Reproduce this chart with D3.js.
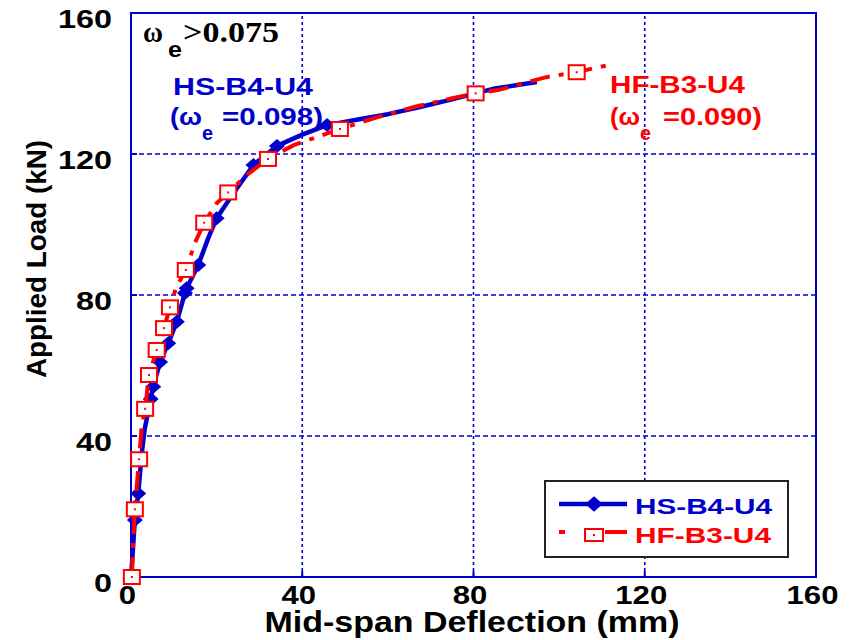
<!DOCTYPE html>
<html>
<head>
<meta charset="utf-8">
<script src="https://cdn.jsdelivr.net/npm/d3@7"></script>
<style>
  body { margin: 0; background: #fff; }
</style>
</head>
<body>
<div id="chart"></div>
<script>
// HS-B4-U4 load-deflection curve (mm, kN)
const hsDefl = [0, 0.3, 0.9, 1.7, 2.5, 3.2, 4.2, 5.2, 6.8, 8.7, 10.7, 12.6, 13.0, 15.7, 18.0, 20.0, 24.0, 28.6, 34.1, 40.0, 45.8, 53.0, 60.0, 67.0, 75.0, 85.0, 94.8];
const hsLoad = [0, 5, 16.2, 23.7, 35, 42, 48, 54, 61, 66.3, 72.4, 80.6, 81.9, 88.5, 96, 101.8, 109, 116.9, 122.3, 125.5, 128.2, 129.8, 131.3, 133.2, 135.5, 138.6, 140.4];
// HS-B4-U4 marker points
const hsMarkDefl = [0.9, 1.7, 4.6, 5.2, 6.8, 8.7, 10.7, 12.6, 13.0, 15.7, 20.0, 28.6, 34.1, 45.8];
const hsMarkLoad = [16.2, 23.7, 50.5, 54, 61, 66.3, 72.4, 80.6, 81.9, 88.5, 101.8, 116.9, 122.3, 128.2];

// HF-B3-U4 load-deflection curve (mm, kN)
const hfDefl = [0.2, 0.5, 0.9, 1.5, 1.9, 2.5, 3.3, 4.2, 6.0, 7.7, 9.1, 10.5, 12.8, 15.0, 17.1, 20.0, 22.7, 27.0, 32.0, 38.0, 48.8, 58.0, 67.0, 75.0, 80.5, 86.0, 92.0, 97.0, 104.1, 108.0, 112.0];
const hfLoad = [0, 10, 19.2, 28, 33.4, 43, 47.7, 57.3, 64.4, 70.6, 76.5, 82, 87.1, 95, 100.5, 106, 109.1, 114, 118.6, 122.5, 127.1, 130.6, 133.6, 135.8, 137.2, 138.2, 140.2, 141.8, 143.2, 144.3, 145.3];
// HF-B3-U4 marker points
const hfMarkDefl = [0.2, 0.9, 1.9, 3.3, 4.2, 6.0, 7.7, 9.1, 12.8, 17.1, 22.7, 32.0, 48.8, 80.5, 104.1];
const hfMarkLoad = [0, 19.2, 33.4, 47.7, 57.3, 64.4, 70.6, 76.5, 87.1, 100.5, 109.1, 118.6, 127.1, 137.2, 143.2];

const xTicks = [0, 40, 80, 120, 160];
const yTicks = [0, 40, 80, 120, 160];
const gridTicks = [40, 80, 120];

const width = 853, height = 640;
const blue = "#0000cc", red = "#ff0000";
const sans = "'Liberation Sans', Arial, sans-serif";
const serif = "'Liberation Serif', 'Times New Roman', serif";

const svg = d3.select("#chart")
  .append("svg")
    .attr("width", width)
    .attr("height", height);

const x = d3.scaleLinear().domain([0, 160]).range([131, 816]);
const y = d3.scaleLinear().domain([0, 160]).range([577, 13]);

// grid lines
svg.selectAll("line.vgrid")
  .data(gridTicks)
  .join("line")
    .attr("x1", d => x(d)).attr("x2", d => x(d))
    .attr("y1", y(0)).attr("y2", y(160))
    .attr("stroke", blue).attr("stroke-width", 1.6)
    .attr("stroke-dasharray", "3,3");
svg.selectAll("line.hgrid")
  .data(gridTicks)
  .join("line")
    .attr("x1", x(0)).attr("x2", x(160))
    .attr("y1", d => y(d)).attr("y2", d => y(d))
    .attr("stroke", blue).attr("stroke-width", 1.6)
    .attr("stroke-dasharray", "5,3");

// inner ticks
svg.selectAll("line.xt")
  .data(xTicks)
  .join("line")
    .attr("x1", d => x(d)).attr("x2", d => x(d))
    .attr("y1", y(0)).attr("y2", y(0) - 6)
    .attr("stroke", blue).attr("stroke-width", 2);
svg.selectAll("line.yt")
  .data(yTicks)
  .join("line")
    .attr("x1", x(0)).attr("x2", x(0) + 6)
    .attr("y1", d => y(d)).attr("y2", d => y(d))
    .attr("stroke", blue).attr("stroke-width", 2);

// frame
svg.append("rect")
  .attr("x", x(0)).attr("y", y(160))
  .attr("width", x(160) - x(0)).attr("height", y(0) - y(160))
  .attr("fill", "none").attr("stroke", blue).attr("stroke-width", 2);

// axes (labels only)
const xAxis = svg.append("g")
  .attr("transform", `translate(0,${y(0)})`)
  .call(d3.axisBottom(x).tickValues(xTicks).tickSize(0));
xAxis.select(".domain").remove();
xAxis.selectAll("text")
  .attr("y", 27).attr("dy", 0).attr("x", -4)
  .attr("fill", "#000")
  .style("font", `bold 25px ${sans}`)
  .attr("textLength", d => String(d).length * 17.3)
  .attr("lengthAdjust", "spacingAndGlyphs");

const yAxis = svg.append("g")
  .attr("transform", `translate(${x(0)},0)`)
  .call(d3.axisLeft(y).tickValues(yTicks).tickSize(0).tickPadding(19));
yAxis.select(".domain").remove();
yAxis.selectAll("text")
  .attr("dy", "0.56em")
  .attr("fill", "#000")
  .style("font", `bold 25px ${sans}`)
  .attr("textLength", d => String(d).length * 18)
  .attr("lengthAdjust", "spacingAndGlyphs");

// axis titles
svg.append("text")
  .attr("x", 472).attr("y", 632)
  .attr("text-anchor", "middle")
  .style("font", `bold 30px ${sans}`)
  .attr("textLength", 415).attr("lengthAdjust", "spacingAndGlyphs")
  .text("Mid-span Deflection (mm)");

svg.append("text")
  .attr("transform", "translate(46,259) rotate(-90)")
  .attr("text-anchor", "middle")
  .style("font", `bold 27px ${sans}`)
  .attr("textLength", 238).attr("lengthAdjust", "spacingAndGlyphs")
  .text("Applied Load (kN)");

// series
const line = d3.line().x(d => x(d[0])).y(d => y(d[1]));
const hsPts = d3.zip(hsDefl, hsLoad);
const hfPts = d3.zip(hfDefl, hfLoad);
const diamond = "M0,-7L8,0L0,7L-8,0Z";

svg.append("path")
  .datum(hsPts)
  .attr("d", line)
  .attr("fill", "none").attr("stroke", blue).attr("stroke-width", 4.5)
  .attr("stroke-linejoin", "round");

svg.selectAll("path.hsmark")
  .data(d3.zip(hsMarkDefl, hsMarkLoad))
  .join("path")
    .attr("transform", d => `translate(${x(d[0])},${y(d[1])})`)
    .attr("d", diamond)
    .attr("fill", blue);

svg.append("path")
  .datum(hfPts)
  .attr("d", line)
  .attr("fill", "none").attr("stroke", red).attr("stroke-width", 4)
  .attr("stroke-dasharray", "20,9,5,9");

const hfMarks = svg.selectAll("g.hfmark")
  .data(d3.zip(hfMarkDefl, hfMarkLoad))
  .join("g")
    .attr("transform", d => `translate(${x(d[0])},${y(d[1])})`);
hfMarks.append("rect")
  .attr("x", -8).attr("y", -7).attr("width", 16).attr("height", 14)
  .attr("fill", "#fff").attr("stroke", red).attr("stroke-width", 2);
hfMarks.append("rect")
  .attr("x", -1).attr("y", -1).attr("width", 2).attr("height", 2)
  .attr("fill", red);

// annotations
function label(txt, x0, y0, font, color, len) {
  const t = svg.append("text")
    .attr("x", x0).attr("y", y0)
    .style("font", font).attr("fill", color)
    .text(txt);
  if (len) t.attr("textLength", len).attr("lengthAdjust", "spacingAndGlyphs");
  return t;
}
label("ω", 143, 42, `bold 29px ${serif}`, "#000", 20);
label("e", 168, 57, `bold 22px ${sans}`, "#000", 14);
label(">0.075", 183, 42, `bold 29px ${serif}`, "#000", 96);

label("HS-B4-U4", 173, 95, `bold 24px ${sans}`, blue, 140);
label("(ω", 170, 125, `bold 24px ${sans}`, blue, 32);
label("e", 202, 140, `bold 20px ${sans}`, blue, 11);
label("=0.098)", 222, 125, `bold 24px ${sans}`, blue, 101);

label("HF-B3-U4", 610, 93, `bold 24px ${sans}`, red, 135);
label("(ω", 610, 125, `bold 24px ${sans}`, red, 30);
label("e", 640, 140, `bold 20px ${sans}`, red, 11);
label("=0.090)", 663, 125, `bold 24px ${sans}`, red, 99);

// legend
const lg = svg.append("g");
lg.append("rect")
  .attr("x", 545).attr("y", 481).attr("width", 243).attr("height", 76)
  .attr("fill", "#fff").attr("stroke", "#222").attr("stroke-width", 2);
lg.append("line")
  .attr("x1", 559).attr("x2", 627).attr("y1", 504).attr("y2", 504)
  .attr("stroke", blue).attr("stroke-width", 4.5);
lg.append("path")
  .attr("transform", "translate(594,504) scale(1.1)")
  .attr("d", diamond).attr("fill", blue);
lg.append("text")
  .attr("x", 635).attr("y", 514)
  .style("font", `bold 22px ${sans}`).attr("fill", blue)
  .attr("textLength", 137).attr("lengthAdjust", "spacingAndGlyphs")
  .text("HS-B4-U4");
lg.append("line")
  .attr("x1", 559).attr("x2", 627).attr("y1", 532).attr("y2", 532)
  .attr("stroke", red).attr("stroke-width", 4)
  .attr("stroke-dasharray", "6,40,22");
lg.append("rect")
  .attr("x", 585).attr("y", 529).attr("width", 18).attr("height", 12)
  .attr("fill", "#fff").attr("stroke", red).attr("stroke-width", 2);
lg.append("rect")
  .attr("x", 593).attr("y", 534).attr("width", 2).attr("height", 2)
  .attr("fill", red);
lg.append("text")
  .attr("x", 635).attr("y", 543)
  .style("font", `bold 22px ${sans}`).attr("fill", red)
  .attr("textLength", 136).attr("lengthAdjust", "spacingAndGlyphs")
  .text("HF-B3-U4");
</script>
</body>
</html>
